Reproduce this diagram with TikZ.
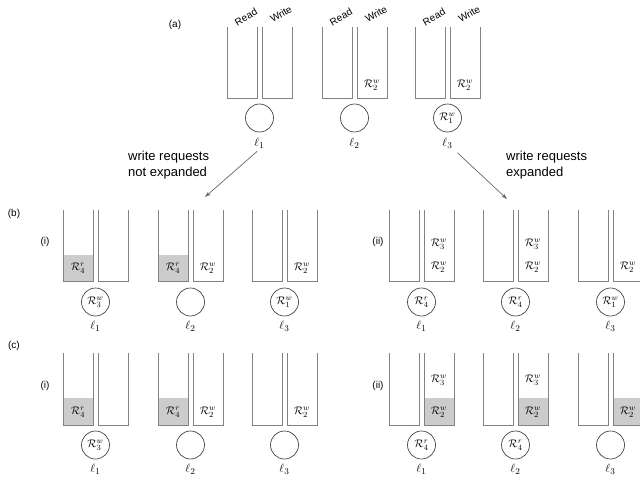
\documentclass[tikz,border=0pt]{standalone}
\usepackage{fontspec}
\setmainfont{Liberation Sans}
\usetikzlibrary{arrows.meta, positioning}
\definecolor{bufgray}{RGB}{130,130,130}
\definecolor{heldgray}{RGB}{204,204,204}
\definecolor{ringgray}{RGB}{70,70,70}
\tikzset{
  buf/.style={draw=bufgray, line width=0.9pt},
  held/.style={fill=heldgray},
  lk/.style={circle, draw=ringgray, line width=0.7pt, minimum size=28pt,
             inner sep=0pt, font=\fontsize{11}{13}\selectfont},
  req/.style={inner sep=0pt, font=\fontsize{11}{13}\selectfont},
  lid/.style={inner sep=1pt, font=\fontsize{13}{15}\selectfont},
  tag/.style={inner sep=0pt, font=\fontsize{10}{12}\selectfont},
  note/.style={inner sep=0pt, align=left, font=\fontsize{13}{16}\selectfont},
  arr/.style={-{Stealth[length=6pt,width=4pt]}, draw=bufgray!80!black, line width=0.7pt},
}
% one read/write pair of queues: left x, top y, bottom y
\newcommand{\rwpair}[3]{%
  \draw[buf] (#1,#2) |- ({#1+30},#3) -- ({#1+30},#2);
  \draw[buf] ({#1+35},#2) |- ({#1+65},#3) -- ({#1+65},#2);}
\newcommand{\Rw}[1]{$\mathcal{R}^{w}_{#1}$}
\newcommand{\Rr}[1]{$\mathcal{R}^{r}_{#1}$}

\begin{document}
\begin{tikzpicture}[x=1pt, y=-1pt]
  \useasboundingbox (0,0) rectangle (640,482);
  \clip (0,0) rectangle (640,482);

  % ── (a) ─────────────────────────────────────────────────
  \node[tag] (ta) at (175,25) {(a)};
  \foreach \gx in {227,322,415} {
    \rwpair{\gx}{27}{98}
    \node[tag, rotate=30] at ({\gx+19},17) {Read};
    \node[tag, rotate=30] at ({\gx+54},14) {Write};
  }
  \node[req] (aq2) at (372,85) {\Rw{2}};
  \node[req] (aq3) at (465,85) {\Rw{2}};
  \node[lk] (ac1) at (259.5,118) {};
  \node[lk] (ac2) at (354.5,118) {};
  \node[lk] (ac3) at (447.5,118) {\Rw{1}};
  \node[lid] (la1) at (259.5,143) {$\ell_1$};
  \node[lid] (la2) at (354.5,143) {$\ell_2$};
  \node[lid] (la3) at (447.5,143) {$\ell_3$};

  % ── ARROWS ──────────────────────────────────────────────
  \node[note, anchor=west] (nl) at (128,165) {write requests\\not expanded};
  \node[note, anchor=west] (nr) at (506,165) {write requests\\expanded};
  \coordinate (nexp) at (205,197);
  \coordinate (yexp) at (507,199);
  \draw[arr, shorten <=3pt] (la1.south) -- (nexp);
  \draw[arr, shorten <=5pt] (la3.south east) -- (yexp);

  % ── (b) ─────────────────────────────────────────────────
  \node[tag] (tb) at (14,214) {(b)};
  \node[tag] (tbi) at (45,242) {(i)};
  \node[tag] (tbii) at (378,242) {(ii)};
  \fill[held] (63,255) rectangle (93,281);
  \fill[held] (158,255) rectangle (188,281);
  \foreach \gx in {63,158,252,389,483,578} {\rwpair{\gx}{210}{281}}
  % (i)
  \node[req] (bq1) at (78,268) {\Rr{4}};
  \node[req] (bq2) at (173,268) {\Rr{4}};
  \node[req] (bq3) at (208,268) {\Rw{2}};
  \node[req] (bq4) at (302,268) {\Rw{2}};
  \node[lk] (bc1) at (95.5,302) {\Rw{3}};
  \node[lk] (bc2) at (190.5,302) {};
  \node[lk] (bc3) at (284.5,302) {\Rw{1}};
  \node[lid] (lb1) at (95.5,326) {$\ell_1$};
  \node[lid] (lb2) at (190.5,326) {$\ell_2$};
  \node[lid] (lb3) at (284.5,326) {$\ell_3$};
  % (ii)
  \node[req] (bq5) at (439,244) {\Rw{3}};
  \node[req] (bq6) at (439,267) {\Rw{2}};
  \node[req] (bq7) at (533,244) {\Rw{3}};
  \node[req] (bq8) at (533,267) {\Rw{2}};
  \node[req] (bq9) at (628,267) {\Rw{2}};
  \node[lk] (bc4) at (421.5,302) {\Rr{4}};
  \node[lk] (bc5) at (515.5,302) {\Rr{4}};
  \node[lk] (bc6) at (610.5,302) {\Rw{1}};
  \node[lid] (lb4) at (421.5,326) {$\ell_1$};
  \node[lid] (lb5) at (515.5,326) {$\ell_2$};
  \node[lid] (lb6) at (610.5,326) {$\ell_3$};

  % ── (c) ─────────────────────────────────────────────────
  \node[tag] (tc) at (14,346) {(c)};
  \node[tag] (tci) at (45,386) {(i)};
  \node[tag] (tcii) at (378,386) {(ii)};
  \fill[held] (63,398) rectangle (93,425);
  \fill[held] (158,398) rectangle (188,425);
  \fill[held] (424,398) rectangle (454,425);
  \fill[held] (518,398) rectangle (548,425);
  \fill[held] (613,398) rectangle (643,425);
  \foreach \gx in {63,158,252,389,483,578} {\rwpair{\gx}{353}{425}}
  % (i)
  \node[req] (cq1) at (78,412) {\Rr{4}};
  \node[req] (cq2) at (173,412) {\Rr{4}};
  \node[req] (cq3) at (208,412) {\Rw{2}};
  \node[req] (cq4) at (302,412) {\Rw{2}};
  \node[lk] (cc1) at (95.5,445) {\Rw{3}};
  \node[lk] (cc2) at (190.5,445) {};
  \node[lk] (cc3) at (284.5,445) {};
  \node[lid] (lc1) at (95.5,469) {$\ell_1$};
  \node[lid] (lc2) at (190.5,469) {$\ell_2$};
  \node[lid] (lc3) at (284.5,469) {$\ell_3$};
  % (ii)
  \node[req] (cq5) at (439,380) {\Rw{3}};
  \node[req] (cq6) at (439,412) {\Rw{2}};
  \node[req] (cq7) at (533,380) {\Rw{3}};
  \node[req] (cq8) at (533,412) {\Rw{2}};
  \node[req] (cq9) at (628,412) {\Rw{2}};
  \node[lk] (cc4) at (421.5,445) {\Rr{4}};
  \node[lk] (cc5) at (515.5,445) {\Rr{4}};
  \node[lk] (cc6) at (610.5,445) {};
  \node[lid] (lc4) at (421.5,469) {$\ell_1$};
  \node[lid] (lc5) at (515.5,469) {$\ell_2$};
  \node[lid] (lc6) at (610.5,469) {$\ell_3$};
\end{tikzpicture}
\end{document}
